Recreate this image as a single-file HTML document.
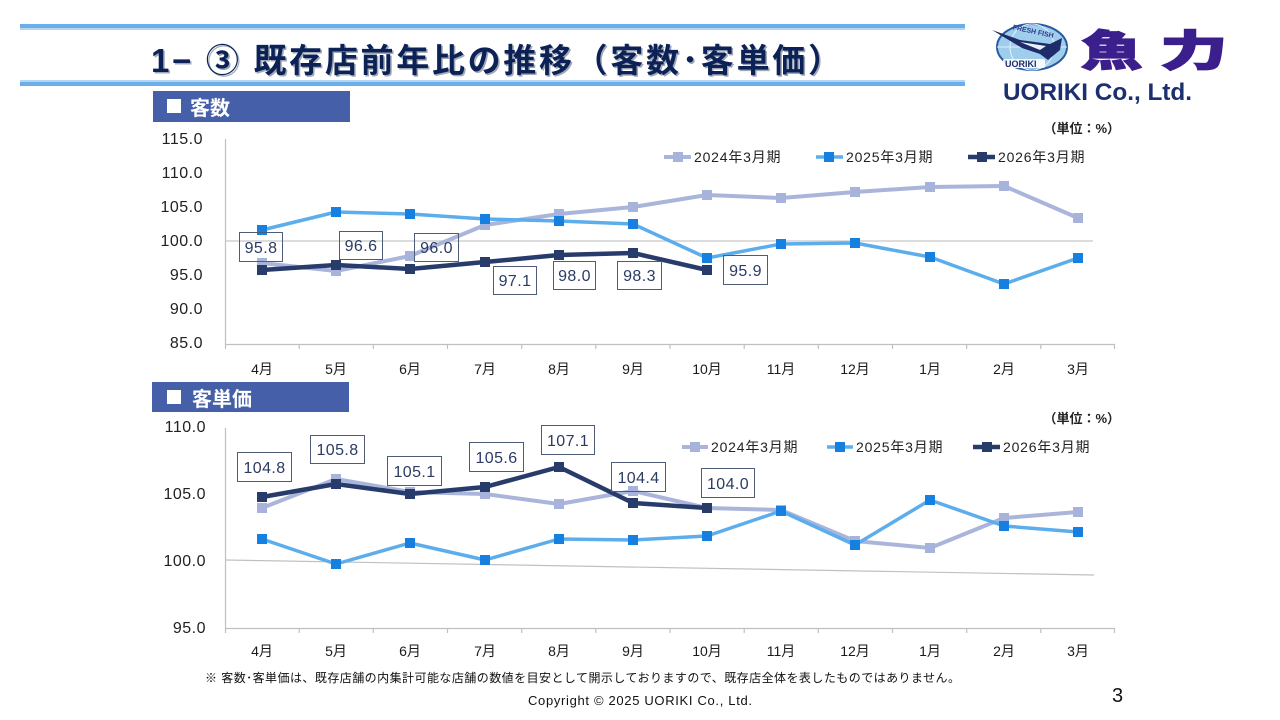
<!DOCTYPE html>
<html>
<head>
<meta charset="utf-8">
<style>
html,body{margin:0;padding:0;background:#fff;}
body{width:1280px;height:720px;overflow:hidden;}
svg{display:block;}
text{font-family:"Liberation Sans","Noto Sans CJK JP",sans-serif;}
</style>
</head>
<body>
<svg width="1280" height="720" viewBox="0 0 1280 720" xmlns="http://www.w3.org/2000/svg">
  <!-- header lines -->
  <rect x="20" y="24" width="945" height="4" fill="#6aaeea"/>
  <rect x="20" y="28" width="945" height="2" fill="#b4d6f2"/>
  <rect x="20" y="80" width="945" height="2" fill="#b4d6f2"/>
  <rect x="20" y="82" width="945" height="4" fill="#6aaeea"/>

  <!-- title -->
  <text x="151" y="72" font-size="33" font-weight="bold" fill="#a0a8b8" textLength="690" lengthAdjust="spacing" transform="translate(1.5,1.5)">1− ③ 既存店前年比の推移（客数･客単価）</text>
  <text x="151" y="72" font-size="33" font-weight="bold" fill="#0c2256" textLength="690" lengthAdjust="spacing">1− ③ 既存店前年比の推移（客数･客単価）</text>

  <!-- logo -->
  <g>
    <ellipse cx="1032" cy="47" rx="35" ry="23" fill="#9fcdec" stroke="#2a5aa0" stroke-width="2"/>
    <ellipse cx="1032" cy="47" rx="22" ry="23" fill="none" stroke="#dfeffa" stroke-width="1"/>
    <line x1="997" y1="47" x2="1067" y2="47" stroke="#dfeffa" stroke-width="1"/>
    <polygon points="992,30 1020,40 1050,44 1062,38 1060,50 1048,60 1040,54 1022,48" fill="#1e2c6a"/>
    <polygon points="1020,42 1046,46 1040,50" fill="#e8f0fa"/>
    <text x="1012" y="33" font-size="7" font-weight="bold" fill="#2a3a8a" font-family="Liberation Serif, serif" transform="rotate(12 1030 33)">FRESH FISH</text>
    <rect x="1003" y="59" width="42" height="9" fill="#ffffff" opacity="0.9" rx="2"/>
    <text x="1005" y="67" font-size="9" font-weight="bold" fill="#1e2c6a" font-family="Liberation Serif, serif">UORIKI</text>
    <text x="0" y="0" font-size="52" font-weight="900" fill="#3b1f8c" stroke="#3b1f8c" stroke-width="1.5" font-family="Noto Serif CJK SC, Noto Sans CJK JP, serif" transform="translate(1081,66) scale(1.18,0.82)">魚</text>
    <text x="0" y="0" font-size="52" font-weight="900" fill="#3b1f8c" stroke="#3b1f8c" stroke-width="1.5" font-family="Noto Serif CJK SC, Noto Sans CJK JP, serif" transform="translate(1160,66) scale(1.3,0.82)">力</text>
    <text x="1003" y="100" font-size="24" font-weight="bold" fill="#1c2f6e" textLength="189" lengthAdjust="spacingAndGlyphs">UORIKI Co., Ltd.</text>
  </g>

  <!-- ============ TOP CHART ============ -->
  <rect x="153" y="91" width="197" height="31" fill="#4560a8"/>
  <rect x="167" y="99" width="14" height="14" fill="#fff"/>
  <text x="190" y="115" font-size="20" font-weight="bold" fill="#fff">客数</text>

  <text x="1120" y="133" font-size="13" font-weight="bold" fill="#222" text-anchor="end">（単位：%）</text>

  <!-- y labels -->
  <g font-size="16" fill="#222" text-anchor="end" letter-spacing="0.5">
    <text x="203" y="144">115.0</text>
    <text x="203" y="178">110.0</text>
    <text x="203" y="212">105.0</text>
    <text x="203" y="246">100.0</text>
    <text x="203" y="280">95.0</text>
    <text x="203" y="314">90.0</text>
    <text x="203" y="348">85.0</text>
  </g>
  <!-- axes -->
  <line x1="225.5" y1="139" x2="225.5" y2="349" stroke="#c0c0c0" stroke-width="1.2"/>
  <line x1="225" y1="344.5" x2="1115" y2="344.5" stroke="#c0c0c0" stroke-width="1.2"/>
  <line x1="225" y1="241" x2="1093" y2="241" stroke="#c8c8c8" stroke-width="1.2"/>
  <g stroke="#c0c0c0" stroke-width="1.2">
    <line x1="299.2" y1="344" x2="299.2" y2="349"/><line x1="373.3" y1="344" x2="373.3" y2="349"/>
    <line x1="447.5" y1="344" x2="447.5" y2="349"/><line x1="521.7" y1="344" x2="521.7" y2="349"/>
    <line x1="595.8" y1="344" x2="595.8" y2="349"/><line x1="670" y1="344" x2="670" y2="349"/>
    <line x1="744.2" y1="344" x2="744.2" y2="349"/><line x1="818.3" y1="344" x2="818.3" y2="349"/>
    <line x1="892.5" y1="344" x2="892.5" y2="349"/><line x1="966.7" y1="344" x2="966.7" y2="349"/>
    <line x1="1040.8" y1="344" x2="1040.8" y2="349"/><line x1="1114.5" y1="344" x2="1114.5" y2="349"/>
  </g>
  <!-- x labels -->
  <g font-size="14" fill="#1a1a1a" text-anchor="middle">
    <text x="262" y="374">4月</text><text x="336" y="374">5月</text><text x="410" y="374">6月</text>
    <text x="485" y="374">7月</text><text x="559" y="374">8月</text><text x="633" y="374">9月</text>
    <text x="707" y="374">10月</text><text x="781" y="374">11月</text><text x="855" y="374">12月</text>
    <text x="930" y="374">1月</text><text x="1004" y="374">2月</text><text x="1078" y="374">3月</text>
  </g>

  <!-- series 2024 -->
  <polyline fill="none" stroke="#aab5dc" stroke-width="4" stroke-linejoin="round"
    points="262,263 336,271 410,256 485,225 559,214 633,207 707,195 781,198 855,192 930,187 1004,186 1078,218"/>
  <g fill="#a8b3dc">
    <rect x="257" y="258" width="10" height="10"/><rect x="331" y="266" width="10" height="10"/>
    <rect x="405" y="251" width="10" height="10"/><rect x="480" y="220" width="10" height="10"/>
    <rect x="554" y="209" width="10" height="10"/><rect x="628" y="202" width="10" height="10"/>
    <rect x="702" y="190" width="10" height="10"/><rect x="776" y="193" width="10" height="10"/>
    <rect x="850" y="187" width="10" height="10"/><rect x="925" y="182" width="10" height="10"/>
    <rect x="999" y="181" width="10" height="10"/><rect x="1073" y="213" width="10" height="10"/>
  </g>
  <!-- series 2025 -->
  <polyline fill="none" stroke="#5cadec" stroke-width="3.5" stroke-linejoin="round"
    points="262,230 336,212 410,214 485,219 559,221 633,224 707,258 781,244 855,243 930,257 1004,284 1078,258"/>
  <g fill="#1580e0">
    <rect x="257" y="225" width="10" height="10"/><rect x="331" y="207" width="10" height="10"/>
    <rect x="405" y="209" width="10" height="10"/><rect x="480" y="214" width="10" height="10"/>
    <rect x="554" y="216" width="10" height="10"/><rect x="628" y="219" width="10" height="10"/>
    <rect x="702" y="253" width="10" height="10"/><rect x="776" y="239" width="10" height="10"/>
    <rect x="850" y="238" width="10" height="10"/><rect x="925" y="252" width="10" height="10"/>
    <rect x="999" y="279" width="10" height="10"/><rect x="1073" y="253" width="10" height="10"/>
  </g>
  <!-- series 2026 -->
  <polyline fill="none" stroke="#283c6c" stroke-width="4.5" stroke-linejoin="round"
    points="262,270 336,265 410,269 485,262 559,255 633,253 707,270"/>
  <g fill="#283c6c">
    <rect x="257" y="265" width="10" height="10"/><rect x="331" y="260" width="10" height="10"/>
    <rect x="405" y="264" width="10" height="10"/><rect x="480" y="257" width="10" height="10"/>
    <rect x="554" y="250" width="10" height="10"/><rect x="628" y="248" width="10" height="10"/>
    <rect x="702" y="265" width="10" height="10"/>
  </g>
  <!-- data labels top -->
  <g fill="none" stroke="#4f5c78" stroke-width="1">
    <rect x="239.5" y="232.5" width="43" height="29"/>
    <rect x="339.5" y="231.5" width="43" height="28"/>
    <rect x="414.5" y="233.5" width="44" height="28"/>
    <rect x="493.5" y="266.5" width="43" height="28"/>
    <rect x="553.5" y="261.5" width="42" height="28"/>
    <rect x="617.5" y="261.5" width="44" height="28"/>
    <rect x="723.5" y="255.5" width="44" height="29"/>
  </g>
  <g font-size="16" fill="#2b3b63" text-anchor="middle" letter-spacing="0.4">
    <text x="261" y="253">95.8</text>
    <text x="361" y="251">96.6</text>
    <text x="436.5" y="253">96.0</text>
    <text x="515" y="286">97.1</text>
    <text x="574.5" y="281">98.0</text>
    <text x="639.5" y="281">98.3</text>
    <text x="745.5" y="276">95.9</text>
  </g>
  <!-- legend top -->
  <g font-size="14" fill="#222">
    <line x1="664" y1="157" x2="691" y2="157" stroke="#aab5dc" stroke-width="4"/>
    <rect x="673" y="152" width="10" height="10" fill="#a8b3dc"/>
    <text x="694" y="162" letter-spacing="0.8">2024年3月期</text>
    <line x1="816" y1="157" x2="843" y2="157" stroke="#5cadec" stroke-width="3.5"/>
    <rect x="824" y="152" width="10" height="10" fill="#1580e0"/>
    <text x="846" y="162" letter-spacing="0.8">2025年3月期</text>
    <line x1="968" y1="157" x2="995" y2="157" stroke="#283c6c" stroke-width="4.5"/>
    <rect x="977" y="152" width="10" height="10" fill="#283c6c"/>
    <text x="998" y="162" letter-spacing="0.8">2026年3月期</text>
  </g>

  <!-- ============ BOTTOM CHART ============ -->
  <rect x="152" y="382" width="197" height="30" fill="#4560a8"/>
  <rect x="167" y="390" width="14" height="14" fill="#fff"/>
  <text x="192" y="406" font-size="20" font-weight="bold" fill="#fff">客単価</text>

  <text x="1120" y="423" font-size="13" font-weight="bold" fill="#222" text-anchor="end">（単位：%）</text>

  <g font-size="16" fill="#222" text-anchor="end" letter-spacing="0.5">
    <text x="206" y="432">110.0</text>
    <text x="206" y="499">105.0</text>
    <text x="206" y="566">100.0</text>
    <text x="206" y="633">95.0</text>
  </g>
  <line x1="225.5" y1="428" x2="225.5" y2="633" stroke="#c0c0c0" stroke-width="1.2"/>
  <line x1="225" y1="628.5" x2="1115" y2="628.5" stroke="#c0c0c0" stroke-width="1.2"/>
  <line x1="225" y1="560" x2="1094" y2="575" stroke="#c0c0c0" stroke-width="1.2"/>
  <g stroke="#c0c0c0" stroke-width="1.2">
    <line x1="299.2" y1="628" x2="299.2" y2="633"/><line x1="373.3" y1="628" x2="373.3" y2="633"/>
    <line x1="447.5" y1="628" x2="447.5" y2="633"/><line x1="521.7" y1="628" x2="521.7" y2="633"/>
    <line x1="595.8" y1="628" x2="595.8" y2="633"/><line x1="670" y1="628" x2="670" y2="633"/>
    <line x1="744.2" y1="628" x2="744.2" y2="633"/><line x1="818.3" y1="628" x2="818.3" y2="633"/>
    <line x1="892.5" y1="628" x2="892.5" y2="633"/><line x1="966.7" y1="628" x2="966.7" y2="633"/>
    <line x1="1040.8" y1="628" x2="1040.8" y2="633"/><line x1="1114.5" y1="628" x2="1114.5" y2="633"/>
  </g>
  <g font-size="14" fill="#1a1a1a" text-anchor="middle">
    <text x="262" y="656">4月</text><text x="336" y="656">5月</text><text x="410" y="656">6月</text>
    <text x="485" y="656">7月</text><text x="559" y="656">8月</text><text x="633" y="656">9月</text>
    <text x="707" y="656">10月</text><text x="781" y="656">11月</text><text x="855" y="656">12月</text>
    <text x="930" y="656">1月</text><text x="1004" y="656">2月</text><text x="1078" y="656">3月</text>
  </g>

  <polyline fill="none" stroke="#aab5dc" stroke-width="4" stroke-linejoin="round"
    points="262,508 336,479 410,492 485,494 559,504 633,491 707,508 781,510 855,541 930,548 1004,518 1078,512"/>
  <g fill="#a8b3dc">
    <rect x="257" y="503" width="10" height="10"/><rect x="331" y="474" width="10" height="10"/>
    <rect x="405" y="487" width="10" height="10"/><rect x="480" y="489" width="10" height="10"/>
    <rect x="554" y="499" width="10" height="10"/><rect x="628" y="486" width="10" height="10"/>
    <rect x="702" y="503" width="10" height="10"/><rect x="776" y="505" width="10" height="10"/>
    <rect x="850" y="536" width="10" height="10"/><rect x="925" y="543" width="10" height="10"/>
    <rect x="999" y="513" width="10" height="10"/><rect x="1073" y="507" width="10" height="10"/>
  </g>
  <polyline fill="none" stroke="#5cadec" stroke-width="3.5" stroke-linejoin="round"
    points="262,539 336,564 410,543 485,560 559,539 633,540 707,536 781,511 855,545 930,500 1004,526 1078,532"/>
  <g fill="#1580e0">
    <rect x="257" y="534" width="10" height="10"/><rect x="331" y="559" width="10" height="10"/>
    <rect x="405" y="538" width="10" height="10"/><rect x="480" y="555" width="10" height="10"/>
    <rect x="554" y="534" width="10" height="10"/><rect x="628" y="535" width="10" height="10"/>
    <rect x="702" y="531" width="10" height="10"/><rect x="776" y="506" width="10" height="10"/>
    <rect x="850" y="540" width="10" height="10"/><rect x="925" y="495" width="10" height="10"/>
    <rect x="999" y="521" width="10" height="10"/><rect x="1073" y="527" width="10" height="10"/>
  </g>
  <polyline fill="none" stroke="#283c6c" stroke-width="4.5" stroke-linejoin="round"
    points="262,497 336,484 410,494 485,487 559,467 633,503 707,508"/>
  <g fill="#283c6c">
    <rect x="257" y="492" width="10" height="10"/><rect x="331" y="479" width="10" height="10"/>
    <rect x="405" y="489" width="10" height="10"/><rect x="480" y="482" width="10" height="10"/>
    <rect x="554" y="462" width="10" height="10"/><rect x="628" y="498" width="10" height="10"/>
    <rect x="702" y="503" width="10" height="10"/>
  </g>
  <g fill="none" stroke="#4f5c78" stroke-width="1">
    <rect x="237.5" y="452.5" width="54" height="29"/>
    <rect x="310.5" y="435.5" width="54" height="28"/>
    <rect x="387.5" y="456.5" width="54" height="29"/>
    <rect x="469.5" y="442.5" width="54" height="29"/>
    <rect x="541.5" y="425.5" width="53" height="29"/>
    <rect x="611.5" y="462.5" width="54" height="29"/>
    <rect x="701.5" y="468.5" width="53" height="29"/>
  </g>
  <g font-size="16" fill="#2b3b63" text-anchor="middle" letter-spacing="0.4">
    <text x="264.5" y="473">104.8</text>
    <text x="337.5" y="455">105.8</text>
    <text x="414.5" y="477">105.1</text>
    <text x="496.5" y="463">105.6</text>
    <text x="568" y="446">107.1</text>
    <text x="638.5" y="483">104.4</text>
    <text x="728" y="489">104.0</text>
  </g>
  <g font-size="14" fill="#222">
    <line x1="682" y1="447" x2="708" y2="447" stroke="#aab5dc" stroke-width="4"/>
    <rect x="690" y="442" width="10" height="10" fill="#a8b3dc"/>
    <text x="711" y="452" letter-spacing="0.8">2024年3月期</text>
    <line x1="827" y1="447" x2="853" y2="447" stroke="#5cadec" stroke-width="3.5"/>
    <rect x="835" y="442" width="10" height="10" fill="#1580e0"/>
    <text x="856" y="452" letter-spacing="0.8">2025年3月期</text>
    <line x1="973" y1="447" x2="1000" y2="447" stroke="#283c6c" stroke-width="4.5"/>
    <rect x="982" y="442" width="10" height="10" fill="#283c6c"/>
    <text x="1003" y="452" letter-spacing="0.8">2026年3月期</text>
  </g>

  <!-- footer -->
  <text x="205" y="682" font-size="12" fill="#111" textLength="755" lengthAdjust="spacing">※ 客数･客単価は、既存店舗の内集計可能な店舗の数値を目安として開示しておりますので、既存店全体を表したものではありません。</text>
  <text x="528" y="705" font-size="13" fill="#111" textLength="224" lengthAdjust="spacing">Copyright © 2025 UORIKI Co., Ltd.</text>
  <text x="1112" y="702" font-size="20" fill="#111">3</text>
</svg>
</body>
</html>
